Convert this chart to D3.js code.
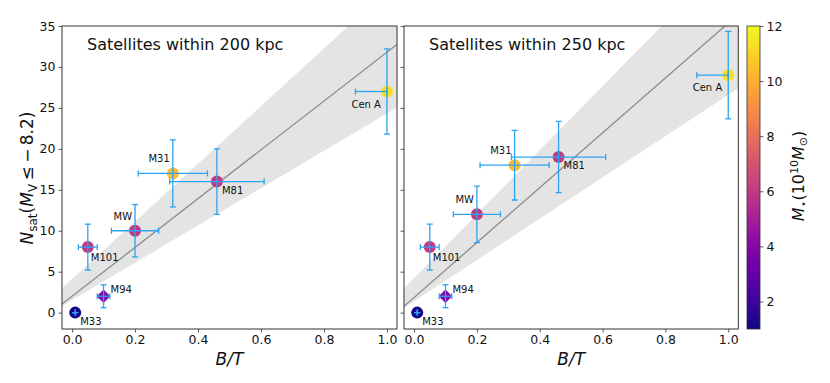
<!DOCTYPE html>
<html>
<head>
<meta charset="utf-8">
<script src="https://cdn.jsdelivr.net/npm/d3@7"></script>
<style>
  html, body { margin: 0; padding: 0; background: #fff; }
  svg { display: block; font-family: "DejaVu Sans", sans-serif; }
</style>
</head>
<body>
<svg id="chart" width="830" height="383"></svg>
<script>
// ---- data ----
const galaxies = ["M33", "M94", "M101", "MW", "M31", "M81", "Cen A"];
const bulgeToTotal = [0.01, 0.10, 0.05, 0.20, 0.32, 0.46, 1.00];
const btErrLow  = [0.0, 0.02, 0.03, 0.075, 0.11, 0.15, 0.10];
const btErrHigh = [0.0, 0.02, 0.03, 0.075, 0.11, 0.15, 0.00];
const stellarMass = [1.1, 4.0, 6.0, 6.0, 10.4, 6.0, 11.3];
const markerShape = ["circle", "diamond", "circle", "circle", "circle", "circle", "circle"];
const labelPlace = ["br", "tr", "br", "tl", "tl", "br", "bl"];

const nsat200 = [0, 2, 8, 10, 17, 16, 27];
const nsatErr200 = [0, 1.4, 2.8, 3.2, 4.1, 4.0, 5.2];
const nsat250 = [0, 2, 8, 12, 18, 19, 29];
const nsatErr250 = [0, 1.4, 2.8, 3.45, 4.25, 4.35, 5.35];

// linear fits: [intercept, slope]; band edges lower / upper
const fit200 = [2.0, 29.8];
const bandLow200 = [1.53, 22.8];
const bandHigh200 = [4.1, 35.2];
const fit250 = [1.85, 33.5];
const bandLow250 = [1.38, 25.2];
const bandHigh250 = [4.2, 39.1];

const titles = ["Satellites within 200 kpc", "Satellites within 250 kpc"];
const xTicks = [0.0, 0.2, 0.4, 0.6, 0.8, 1.0];
const yTicks = [0, 5, 10, 15, 20, 25, 30, 35];
const cbTicks = [2, 4, 6, 8, 10, 12];

// ---- layout ----
const svg = d3.select("#chart");
const plotTop = 26, plotBottom = 329;
const y = d3.scaleLinear().domain([-2, 35]).range([plotBottom, plotTop]);
const xLeft = d3.scaleLinear().domain([-0.032, 1.032]).range([62, 397]);
const xRight = d3.scaleLinear().domain([-0.032, 1.032]).range([404, 738.3]);
const color = d3.scaleSequential(d3.interpolatePlasma).domain([1, 12]);
const errColor = "#2ba3f2";
const axisColor = "#333";

const defs = svg.append("defs");

function drawPanel(idx, x, nsat, nerr, fit, bLow, bHigh, showYLabels) {
  const g = svg.append("g");
  const [x0, x1] = x.range();
  const clipId = "clip" + idx;
  defs.append("clipPath").attr("id", clipId)
    .append("rect").attr("x", x0).attr("y", plotTop).attr("width", x1 - x0).attr("height", plotBottom - plotTop);
  const plot = g.append("g").attr("clip-path", `url(#${clipId})`);

  const [d0, d1] = x.domain();
  const xs = [d0, d1];
  const bandPts = [
    [d0, bLow[0] + bLow[1] * d0], [d1, bLow[0] + bLow[1] * d1],
    [d1, bHigh[0] + bHigh[1] * d1], [d0, bHigh[0] + bHigh[1] * d0]
  ];
  plot.append("path")
    .attr("d", d3.line().x(d => x(d[0])).y(d => y(d[1]))(bandPts) + "Z")
    .attr("fill", "#e4e4e4");
  plot.append("path")
    .attr("d", d3.line().x(d => x(d)).y(d => y(fit[0] + fit[1] * d))(xs))
    .attr("stroke", "#8c8c8c").attr("stroke-width", 1.3).attr("fill", "none");

  // markers
  galaxies.forEach((name, i) => {
    const cx = x(bulgeToTotal[i]), cy = y(nsat[i]);
    if (markerShape[i] === "diamond") {
      const r = 6.8;
      plot.append("path")
        .attr("d", `M${cx},${cy - r}L${cx + r},${cy}L${cx},${cy + r}L${cx - r},${cy}Z`)
        .attr("fill", color(stellarMass[i]));
    } else {
      plot.append("circle").attr("cx", cx).attr("cy", cy).attr("r", 6)
        .attr("fill", color(stellarMass[i]));
    }
  });

  // error bars
  const cap = 3;
  galaxies.forEach((name, i) => {
    const cx = x(bulgeToTotal[i]), cy = y(nsat[i]);
    const xa = x(bulgeToTotal[i] - btErrLow[i]), xb = x(bulgeToTotal[i] + btErrHigh[i]);
    const ya = y(nsat[i] - nerr[i]), yb = y(nsat[i] + nerr[i]);
    const eg = plot.append("g").attr("stroke", errColor).attr("stroke-width", 1.3);
    eg.append("line").attr("x1", cx).attr("x2", cx).attr("y1", ya).attr("y2", yb);
    eg.append("line").attr("x1", xa).attr("x2", xb).attr("y1", cy).attr("y2", cy);
    eg.append("line").attr("x1", cx - cap).attr("x2", cx + cap).attr("y1", ya).attr("y2", ya);
    eg.append("line").attr("x1", cx - cap).attr("x2", cx + cap).attr("y1", yb).attr("y2", yb);
    eg.append("line").attr("x1", xa).attr("x2", xa).attr("y1", cy - cap).attr("y2", cy + cap);
    eg.append("line").attr("x1", xb).attr("x2", xb).attr("y1", cy - cap).attr("y2", cy + cap);
  });

  // labels
  const place = {
    br: [5, 12, "start"], tr: [7, -3, "start"], tl: [-3, -11, "end"], bl: [-6, 16, "end"]
  };
  galaxies.forEach((name, i) => {
    const p = place[labelPlace[i]];
    let [dx, dy, anchor] = p;
    if (name === "M101") { dx = 3; dy = 14; }
    g.append("text")
      .attr("x", x(bulgeToTotal[i]) + dx).attr("y", y(nsat[i]) + dy)
      .attr("text-anchor", anchor).attr("font-size", 10).attr("fill", "#111")
      .text(name);
  });

  // frame
  g.append("rect").attr("x", x0).attr("y", plotTop).attr("width", x1 - x0).attr("height", plotBottom - plotTop)
    .attr("fill", "none").attr("stroke", axisColor).attr("stroke-width", 1);

  // axes
  const xAxis = d3.axisBottom(x).tickValues(xTicks).tickFormat(d3.format(".1f")).tickSize(3.5).tickPadding(3);
  const gx = g.append("g").attr("transform", `translate(0,${plotBottom})`).call(xAxis);
  const yAxis = d3.axisLeft(y).tickValues(yTicks).tickSize(3.5).tickPadding(3);
  if (!showYLabels) yAxis.tickFormat("");
  const gy = g.append("g").attr("transform", `translate(${x0},0)`).call(yAxis);
  [gx, gy].forEach(a => {
    a.select(".domain").remove();
    a.selectAll(".tick line").attr("stroke", axisColor).attr("stroke-width", 0.8);
    a.selectAll(".tick text").attr("font-size", 12.5).attr("fill", "#111")
      .attr("font-family", "DejaVu Sans, sans-serif");
  });

  // title
  g.append("text").attr("x", x0 + 25).attr("y", 50).attr("font-size", 16).attr("fill", "#111")
    .text(titles[idx]);

  // x label
  g.append("text").attr("x", (x0 + x1) / 2).attr("y", 365).attr("text-anchor", "middle")
    .attr("font-size", 17).attr("font-style", "italic").attr("fill", "#111").text("B/T");
}

drawPanel(0, xLeft, nsat200, nsatErr200, fit200, bandLow200, bandHigh200, true);
drawPanel(1, xRight, nsat250, nsatErr250, fit250, bandLow250, bandHigh250, false);

// y label
const yl = svg.append("text")
  .attr("transform", "translate(33,178) rotate(-90)")
  .attr("text-anchor", "middle").attr("font-size", 17).attr("fill", "#111");
yl.append("tspan").attr("font-style", "italic").text("N");
yl.append("tspan").attr("font-size", 12).attr("dy", 3.5).text("sat");
yl.append("tspan").attr("dy", -3.5).text("(");
yl.append("tspan").attr("font-style", "italic").text("M");
yl.append("tspan").attr("font-size", 12).attr("dy", 3.5).text("V");
yl.append("tspan").attr("dy", -3.5).text("\u2009\u2264\u2009\u2212\u20098.2)");

// colorbar
const cbX = 747, cbW = 13;
const cbY = d3.scaleLinear().domain([1, 12]).range([plotBottom, plotTop]);
const grad = defs.append("linearGradient").attr("id", "cbgrad")
  .attr("x1", 0).attr("x2", 0).attr("y1", 1).attr("y2", 0);
d3.range(0, 1.0001, 0.05).forEach(t => {
  grad.append("stop").attr("offset", t).attr("stop-color", d3.interpolatePlasma(t));
});
svg.append("rect").attr("x", cbX).attr("y", plotTop).attr("width", cbW).attr("height", plotBottom - plotTop)
  .attr("fill", "url(#cbgrad)").attr("stroke", axisColor).attr("stroke-width", 0.8);
const cbAxis = d3.axisRight(cbY).tickValues(cbTicks).tickSize(3.5).tickPadding(3);
const gcb = svg.append("g").attr("transform", `translate(${cbX + cbW},0)`).call(cbAxis);
gcb.select(".domain").remove();
gcb.selectAll(".tick line").attr("stroke", axisColor).attr("stroke-width", 0.8);
gcb.selectAll(".tick text").attr("font-size", 12.5).attr("fill", "#111")
  .attr("font-family", "DejaVu Sans, sans-serif");

const cl = svg.append("text")
  .attr("transform", "translate(804,176) rotate(-90)")
  .attr("text-anchor", "middle").attr("font-size", 16).attr("fill", "#111");
cl.append("tspan").attr("font-style", "italic").text("M");
cl.append("tspan").attr("font-size", 11).attr("dy", 3).text("\u22C6");
cl.append("tspan").attr("dy", -3).text("(10");
cl.append("tspan").attr("font-size", 11).attr("dy", -6).text("10");
cl.append("tspan").attr("dy", 6).attr("font-style", "italic").text("M");
cl.append("tspan").attr("font-size", 11).attr("dy", 3).text("\u2299");
cl.append("tspan").attr("dy", -3).text(")");
</script>
</body>
</html>
